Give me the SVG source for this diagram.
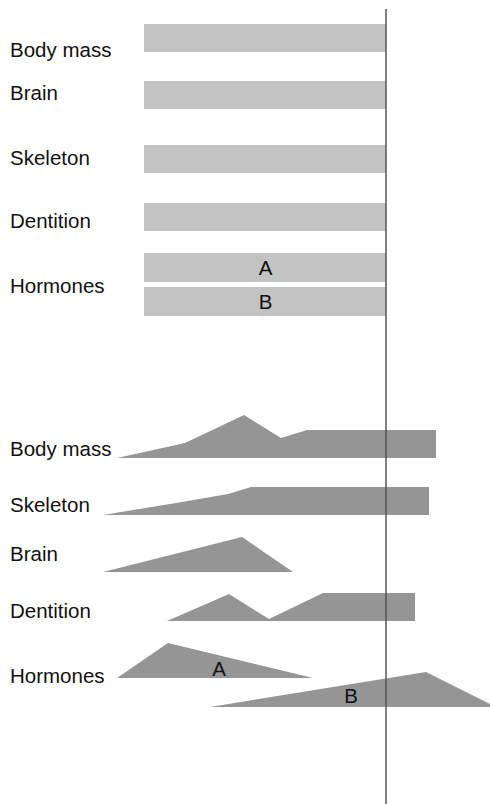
<svg xmlns="http://www.w3.org/2000/svg" width="490" height="804" viewBox="0 0 490 804">
<style>
text{font-family:"Liberation Sans",Arial,sans-serif;font-size:20.5px;fill:#111}
.bar{fill:#c3c3c3}
.shape{fill:#959595}
.axis{stroke:#555;stroke-width:1.5;fill:none}
</style>
<rect width="490" height="804" fill="#fff"/>
<g id="top-body-mass"><text x="10" y="57">Body mass</text><rect class="bar" x="144" y="24" width="242" height="28"/></g>
<g id="top-brain"><text x="10" y="100">Brain</text><rect class="bar" x="144" y="81" width="242" height="28"/></g>
<g id="top-skeleton"><text x="10" y="165">Skeleton</text><rect class="bar" x="144" y="145" width="242" height="28"/></g>
<g id="top-dentition"><text x="10" y="228">Dentition</text><rect class="bar" x="144" y="203" width="242" height="28"/></g>
<g id="top-hormones"><text x="10" y="293">Hormones</text>
<rect class="bar" x="144" y="253" width="242" height="29"/><text x="265.5" y="275" text-anchor="middle">A</text>
<rect class="bar" x="144" y="287" width="242" height="29"/><text x="265.5" y="309" text-anchor="middle">B</text></g>
<g id="bottom-body-mass"><text x="10" y="456">Body mass</text><polygon class="shape" points="117,458 185,443 244,415 281,438 307,430 436,430 436,458"/></g>
<g id="bottom-skeleton"><text x="10" y="512">Skeleton</text><polygon class="shape" points="103,515 182,502 228,494 251,487 429,487 429,515"/></g>
<g id="bottom-brain"><text x="10" y="561">Brain</text><polygon class="shape" points="103,572 242,537 293,572"/></g>
<g id="bottom-dentition"><text x="10" y="618">Dentition</text><polygon class="shape" points="167,621 229,594 269,619 323,593 415,593 415,621"/></g>
<g id="bottom-hormones"><text x="10" y="683">Hormones</text>
<polygon class="shape" points="117,678 168,643 313,678"/><text x="219" y="676" text-anchor="middle">A</text>
<polygon class="shape" points="210,707 426,672 490,704 490,707"/><text x="351" y="703" text-anchor="middle">B</text></g>
<g id="connectors"><line class="axis" x1="386" y1="9" x2="386" y2="804"/></g>
</svg>
